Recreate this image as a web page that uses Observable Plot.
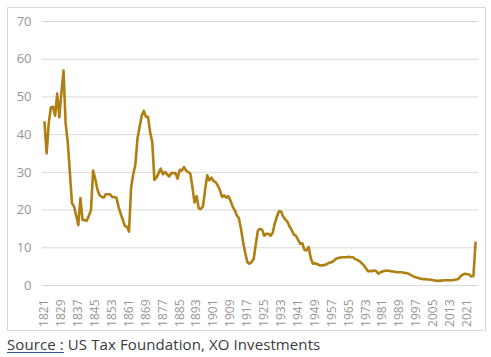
<!DOCTYPE html>
<html>
<head>
<meta charset="utf-8">
<script src="https://cdn.jsdelivr.net/npm/d3@7"></script>
<script src="https://cdn.jsdelivr.net/npm/@observablehq/plot@0.6"></script>
<style>
  html, body { margin: 0; padding: 0; background: #fff; }
  #wrap { position: relative; width: 491px; height: 357px; overflow: hidden; }
  #frame { position: absolute; left: 7px; top: 7px; width: 479px; height: 324px; border: 1px solid #d9d9d9; box-sizing: border-box; }
  #chart { position: absolute; left: 0; top: 0; }
  #caption { position: absolute; left: 7px; top: 335px; font-family: "Open Sans", sans-serif; font-size: 15px; letter-spacing: 0.1px; color: #3a3a3a; white-space: nowrap; line-height: 19px; }
  #caption u { text-decoration-color: #2f5597; text-underline-offset: 2px; }
</style>
</head>
<body>
<div id="wrap">
  <div id="frame"></div>
  <div id="chart"></div>
  <div id="caption"><u>Source :</u> US Tax Foundation, XO Investments</div>
</div>
<script>
const firstYear = 1821;
// Average tariff rate (%), one value per year 1821..2025
const tariffRate = [
  43.3, 35, 43, 47.2, 47.4, 45, 50.9, 44.6, 51, 57,
  43, 38, 30, 21.8, 20.9, 18.5, 16, 23.2, 17.4, 17.3,
  17.2, 18.5, 20, 30.5, 28.3, 25.5, 24, 23.5, 23.3, 24.2,
  24.2, 24.2, 23.5, 23.4, 23.3, 21, 19.1, 17.5, 15.8, 15.6,
  14.3, 26, 29.5, 32, 39, 42, 45, 46.3, 44.7, 44.7,
  40.6, 38, 28, 28.6, 29.8, 31, 29.5, 30.1, 29.5, 28.9,
  29.8, 29.8, 29.8, 28.3, 30.7, 30.5, 31.4, 30.5, 30.1, 29.7,
  26.1, 22, 23.7, 20.4, 20.3, 21, 25.3, 29.2, 27.9, 28.6,
  27.7, 27.4, 26.5, 25.3, 23.5, 23.9, 23.3, 23.7, 22.5, 21,
  20, 18.6, 17.8, 15, 11.5, 8.6, 6.2, 5.8, 6.2, 7,
  11, 14.6, 15, 14.8, 13.2, 13.7, 13.7, 13.2, 14, 16.5,
  18.3, 19.7, 19.6, 18.2, 17.5, 16.9, 15.6, 14.7, 13.5, 13.2,
  12.1, 11.1, 11.2, 9.5, 9.3, 10.2, 7.3, 5.8, 5.9, 5.7,
  5.4, 5.3, 5.4, 5.5, 5.8, 6.1, 6.2, 6.6, 7.1, 7.3,
  7.4, 7.5, 7.5, 7.5, 7.6, 7.5, 7.5, 7.0, 6.8, 6.5,
  6.0, 5.4, 4.7, 3.8, 3.8, 3.8, 4.0, 3.8, 3.1, 3.5,
  3.7, 3.9, 3.9, 3.9, 3.8, 3.7, 3.6, 3.5, 3.5, 3.5,
  3.4, 3.3, 3.2, 2.9, 2.6, 2.3, 2.1, 2.0, 1.8, 1.7,
  1.7, 1.6, 1.6, 1.5, 1.4, 1.3, 1.2, 1.3, 1.3, 1.4,
  1.4, 1.4, 1.4, 1.4, 1.5, 1.6, 1.8, 2.5, 2.9, 3.1,
  3.0, 2.9, 2.4, 2.5, 11.4
];
const xTickLabels = [1821, 1829, 1837, 1845, 1853, 1861, 1869, 1877, 1885, 1893, 1901, 1909, 1917, 1925, 1933, 1941, 1949, 1957, 1965, 1973, 1981, 1989, 1997, 2005, 2013, 2021];
const yTickLabels = [0, 10, 20, 30, 40, 50, 60, 70];

const data = tariffRate.map((v, i) => ({year: firstYear + i, value: v}));

const chart = Plot.plot({
  width: 491,
  height: 335,
  marginLeft: 42,
  marginRight: 13,
  marginTop: 21,
  marginBottom: 50,
  style: {fontFamily: "'Open Sans', sans-serif", background: "transparent"},
  x: {domain: [1820.05, 2026.4], ticks: xTickLabels, tickFormat: d => String(d), label: null},
  y: {domain: [0, 70], ticks: yTickLabels, label: null},
  marks: [
    Plot.gridY(yTickLabels, {stroke: "#d9d9d9", strokeOpacity: 1, strokeWidth: 1}),
    Plot.axisY(yTickLabels, {tickSize: 0, tickPadding: 11, fontSize: 13, fill: "#959595", label: null}),
    Plot.axisX(xTickLabels, {tickSize: 0, tickRotate: -90, tickPadding: 14, fontSize: 12, fill: "#959595", label: null, tickFormat: d => String(d)}),
    Plot.line(data, {x: "year", y: "value", stroke: "#b07f12", strokeWidth: 2.6, strokeLinejoin: "round"})
  ]
});
document.getElementById("chart").appendChild(chart);
</script>
</body>
</html>
